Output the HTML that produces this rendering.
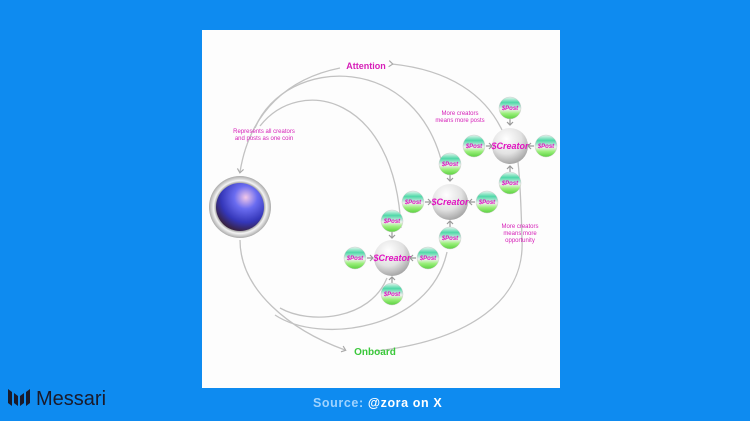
<!DOCTYPE html>
<html><head><style>
html,body{margin:0;padding:0;width:750px;height:421px;background:#0e8bf0;overflow:hidden;font-family:"Liberation Sans",sans-serif}
</style></head><body>
<svg width="750" height="421" viewBox="0 0 750 421" xmlns="http://www.w3.org/2000/svg" style="position:absolute;left:0;top:0">
<defs>
<radialGradient id="blue" cx="0.62" cy="0.3" r="0.8">
<stop offset="0" stop-color="#f3c8e8"/><stop offset="0.3" stop-color="#6a6cf0"/><stop offset="0.65" stop-color="#3436b8"/><stop offset="1" stop-color="#3a1a12"/>
</radialGradient>
<radialGradient id="ring" cx="0.5" cy="0.5" r="0.5">
<stop offset="0.75" stop-color="#888"/><stop offset="0.85" stop-color="#f4f4f4"/><stop offset="1" stop-color="#aaa"/>
</radialGradient>
<radialGradient id="silver" cx="0.4" cy="0.3" r="0.7">
<stop offset="0" stop-color="#ffffff"/><stop offset="0.6" stop-color="#e2e2e2"/><stop offset="1" stop-color="#a8a8a8"/>
</radialGradient>
<linearGradient id="post" x1="0" y1="0" x2="0" y2="1">
<stop offset="0" stop-color="#e8f7f0"/><stop offset="0.25" stop-color="#4fd8a8"/><stop offset="0.55" stop-color="#f0f0f0"/><stop offset="0.75" stop-color="#9af07a"/><stop offset="1" stop-color="#5ad040"/>
</linearGradient>
<marker id="ar" viewBox="0 0 10 10" refX="5" refY="5" markerWidth="6" markerHeight="6" orient="auto"><path d="M1,1 L6,5 L1,9" fill="none" stroke="#aaa" stroke-width="1.5"/></marker>
</defs>
<rect x="202" y="30" width="358" height="358" fill="#fdfdfd"/>
<g fill="none" stroke="#c2c2c2" stroke-width="1.3">
<path d="M392,64 C450,70 485,95 502,130" marker-start="url(#ar)"/>
<path d="M340,68 C290,78 250,110 240,172" marker-end="url(#ar)"/>
<path d="M255,128 C285,55 420,50 444,172"/>
<path d="M260,126 C300,75 395,95 401,228"/>
<path d="M240,240 C240,290 290,330 345,350" marker-end="url(#ar)"/>
<path d="M387,278 C370,320 310,325 280,308"/>
<path d="M447,252 C430,330 320,345 275,315"/>
<path d="M376,351 C470,340 525,300 522,240 C521,200 520,180 518,162"/>
</g>
<text x="366" y="69" font-size="9" fill="#d61fb8" text-anchor="middle" font-weight="bold">Attention</text>
<text x="375" y="355" font-size="10" fill="#3bc83b" text-anchor="middle" font-weight="bold">Onboard</text>
<g font-size="6" fill="#d61fb8" text-anchor="middle">
<text x="264" y="133">Represents all creators</text><text x="264" y="140">and posts as one coin</text>
<text x="460" y="115">More creators</text><text x="460" y="122">means more posts</text>
<text x="520" y="228">More creators</text><text x="520" y="235">means more</text><text x="520" y="242">opportunity</text>
</g>
<circle cx="240" cy="207" r="31" fill="url(#ring)"/>
<circle cx="240" cy="207" r="24" fill="url(#blue)"/>
<g stroke="#999" stroke-width="1.2" fill="none">
<path d="M486,146 h6 M489,143 l3,3 -3,3"/>
<path d="M534,146 h-6 M531,143 l-3,3 3,3"/>
<path d="M510,119 v6 M507,122 l3,3 3,-3"/>
<path d="M510,172 v-6 M507,169 l3,-3 3,3"/>
<path d="M425,202 h6 M428,199 l3,3 -3,3"/>
<path d="M475,202 h-6 M472,199 l-3,3 3,3"/>
<path d="M450,175 v6 M447,178 l3,3 3,-3"/>
<path d="M450,227 v-6 M447,224 l3,-3 3,3"/>
<path d="M367,258 h6 M370,255 l3,3 -3,3"/>
<path d="M416,258 h-6 M413,255 l-3,3 3,3"/>
<path d="M392,232 v6 M389,235 l3,3 3,-3"/>
<path d="M392,283 v-6 M389,280 l3,-3 3,3"/>
</g>
<g>
<circle cx="510" cy="146" r="18" fill="url(#silver)"/>
<circle cx="450" cy="202" r="18" fill="url(#silver)"/>
<circle cx="392" cy="258" r="18" fill="url(#silver)"/>
</g>
<g fill="url(#post)" stroke="#ccc" stroke-width="0.5">
<circle cx="510" cy="108" r="11"/><circle cx="474" cy="146" r="11"/><circle cx="546" cy="146" r="11"/><circle cx="510" cy="183" r="11"/>
<circle cx="450" cy="164" r="11"/><circle cx="413" cy="202" r="11"/><circle cx="487" cy="202" r="11"/><circle cx="450" cy="238" r="11"/>
<circle cx="392" cy="221" r="11"/><circle cx="355" cy="258" r="11"/><circle cx="428" cy="258" r="11"/><circle cx="392" cy="294" r="11"/>
</g>
<g font-size="6" font-style="italic" font-weight="bold" fill="#e014c0" text-anchor="middle">
<text x="510" y="110">$Post</text><text x="474" y="148">$Post</text><text x="546" y="148">$Post</text><text x="510" y="185">$Post</text>
<text x="450" y="166">$Post</text><text x="413" y="204">$Post</text><text x="487" y="204">$Post</text><text x="450" y="240">$Post</text>
<text x="392" y="223">$Post</text><text x="355" y="260">$Post</text><text x="428" y="260">$Post</text><text x="392" y="296">$Post</text>
</g>
<g font-size="9" font-style="italic" font-weight="bold" fill="#e014c0" text-anchor="middle">
<text x="510" y="149">$Creator</text><text x="450" y="205">$Creator</text><text x="392" y="261">$Creator</text>
</g>
<text x="313" y="407" font-size="12.5" font-weight="bold" fill="#9fd3ff" letter-spacing="0.6">Source: <tspan fill="#ffffff">@zora on X</tspan></text>
<g fill="#1a1a2a">
<path d="M8,389 l4,3 v14 l-4,-3z M14,393 l4,3 v10 l-4,-3z M20,396 l4,-3 v10 l-4,3z M26,392 l4,-3 v14 l-4,3z"/>
</g>
<text x="36" y="405" font-size="20" fill="#1a1a2a">Messari</text>
</svg>
</body></html>
